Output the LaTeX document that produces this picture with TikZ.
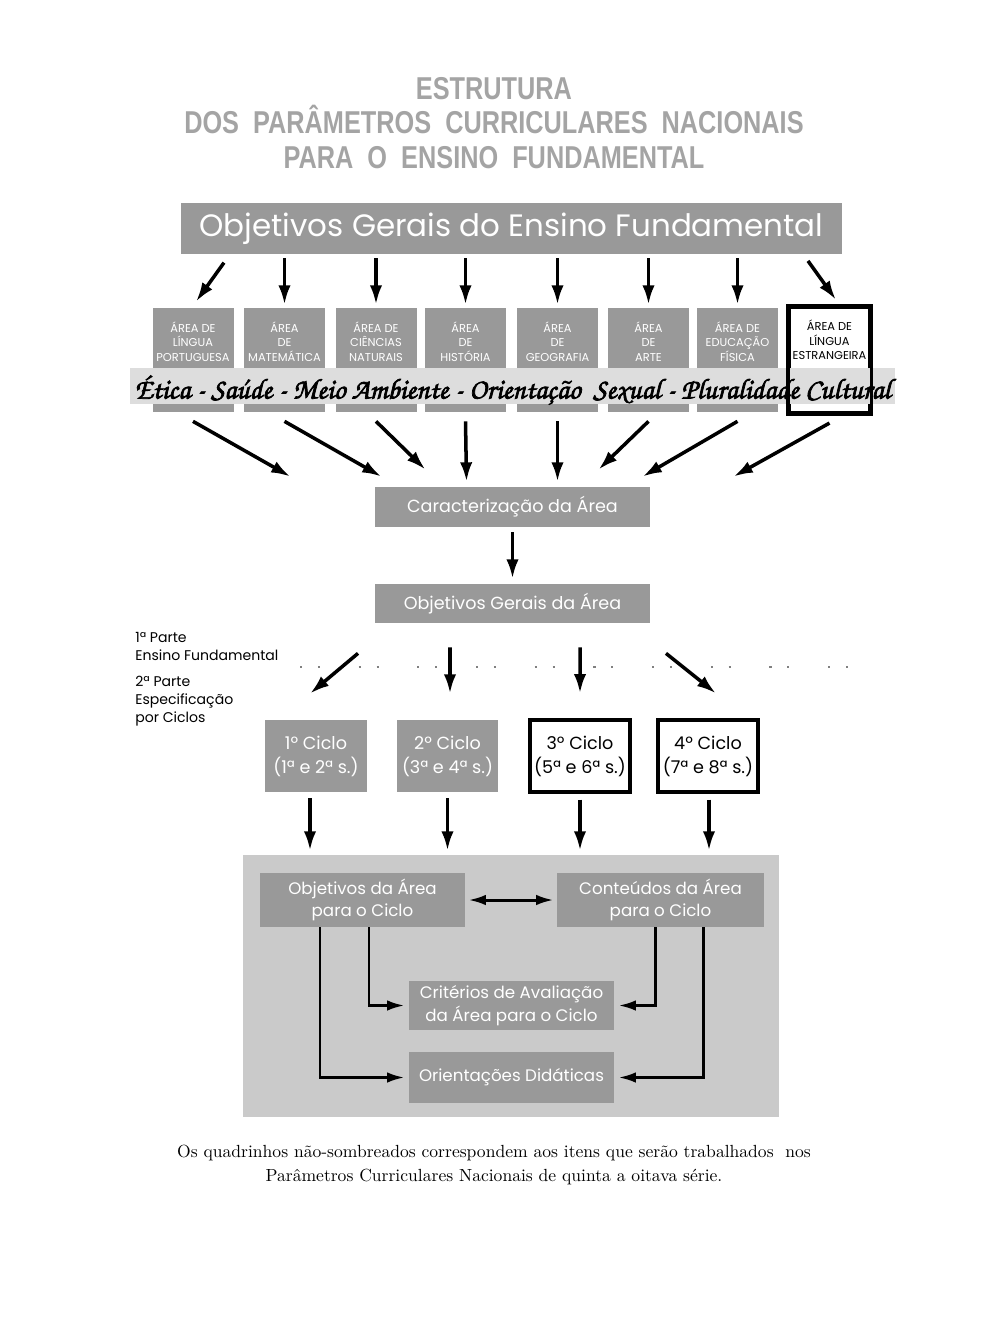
\documentclass[tikz,border=0pt]{standalone}
\usepackage{fontspec}
\usetikzlibrary{arrows.meta,calc}

\newfontfamily\gothic{Poppins}
\newfontfamily\titlefont{Liberation Sans}[FakeStretch=0.8]
\newfontfamily\handfont{texgyrechorus-mediumitalic.otf}[FakeBold=2.5]

\newlength\pxd
\setlength\pxd{0.02cm}

\definecolor{titlegray}{HTML}{A4A4A4}
\definecolor{boxgray}{HTML}{999999}
\definecolor{bandgray}{HTML}{DDDDDD}
\definecolor{panelgray}{HTML}{CACACA}

\begin{document}
\begin{tikzpicture}[x=0.02cm, y=-0.02cm,
    gbox/.style={fill=boxgray, text=white, inner sep=0pt, align=center},
    wbox/.style={gbox, fill=white, text=black, draw=black, line width=1.8pt},
    areatext/.style={align=center, text=white, inner sep=0pt, font=\gothic\fontsize{6.5}{8.2}\selectfont},
    arr/.style={-{Latex[length=11pt,width=7pt]}, line width=2pt},
    elbow/.style={-{Latex[length=10pt,width=6pt]}, line width=1.7pt}]

    % page
    \useasboundingbox (0,0) rectangle (1004,1328);

    % Title
    \node[align=center, text=titlegray, font=\titlefont\bfseries\fontsize{18}{19.5}\selectfont] (title) at (494,123)
        {ESTRUTURA\\DOS\ \ PARÂMETROS\ \ CURRICULARES\ \ NACIONAIS\\PARA\ \ O\ \ ENSINO\ \ FUNDAMENTAL};

    % Objetivos gerais
    \node[gbox, minimum width=661*\pxd, minimum height=51*\pxd, font=\gothic\fontsize{17.6}{20}\selectfont] (top) at (511.5,228.5)
        {Objetivos Gerais do Ensino Fundamental};

    % Areas
    \foreach \i/\x/\txt in {1/193/{ÁREA DE\\LÍNGUA\\PORTUGUESA}, 2/284.5/{ÁREA\\DE\\MATEMÁTICA},
        3/376/{ÁREA DE\\CIÊNCIAS\\NATURAIS}, 4/465.5/{ÁREA\\DE\\HISTÓRIA}, 5/557.5/{ÁREA\\DE\\GEOGRAFIA},
        6/648.5/{ÁREA\\DE\\ARTE}, 7/737.5/{ÁREA DE\\EDUCAÇÃO\\FÍSICA}}{
        \node[gbox, minimum width=81*\pxd, minimum height=104*\pxd] (a\i) at (\x,360) {};
        \node[areatext] at ($(a\i.north)+(0,34)$) {\txt};
    }
    \node[wbox, minimum width=80*\pxd, minimum height=105*\pxd] (a8) at (829.5,360) {};
    \node[areatext, text=black] at ($(a8.north)+(0,34)$) {ÁREA DE\\LÍNGUA\\ESTRANGEIRA};

    % Temas transversais
    \node[fill=bandgray, minimum width=765*\pxd, minimum height=36*\pxd, inner sep=0pt] (band) at (512.5,386) {};
    \draw[line width=1.8pt] (a8.north west) rectangle (a8.south east);
    \node[inner sep=0pt, font=\handfont\fontsize{16.4}{16}\selectfont] (temas) at ($(band)+(0,4)$)
        {Ética - Saúde - Meio Ambiente - Orientação\ \ Sexual - Pluralidade Cultural};

    % Arrows to the areas
    \draw[arr] ($(a1.north)+(31,-45)$) -- ($(a1.north)+(3,-6)$);
    \foreach \i in {2,...,7}
        \draw[arr] ($(a\i.north |- top.south)+(0,4)$) -- ($(a\i.north)+(0,-3)$);
    \draw[arr] ($(a8.north)+(-21.5,-45)$) -- ($(a8.north)+(6.5,-6)$);

    % Caracterizacao
    \node[gbox, minimum width=275*\pxd, minimum height=40*\pxd, font=\gothic\fontsize{10}{12}\selectfont] (carac) at (512.5,507)
        {Caracterização da Área};
    \foreach \i/\ex/\ey in {1/-222/-10, 2/-131/-10, 3/-87/-17, 4/-46/-5, 5/45/-5, 6/86/-17, 7/130/-10, 8/221/-10}
        \draw[arr] ($(a\i.south)+(0,9)$) -- ($(carac.north)+(\ex,\ey)$);

    % Objetivos gerais da area
    \node[gbox, minimum width=275*\pxd, minimum height=39*\pxd, font=\gothic\fontsize{10}{12}\selectfont] (objg) at (512.5,603.5)
        {Objetivos Gerais da Área};
    \draw[arr] ($(carac.south)+(0,5)$) -- ($(objg.north)+(0,-5)$);

    % Partes
    \node[anchor=north west, align=left, inner sep=0pt, font=\gothic\fontsize{8}{10.2}\selectfont] (parte1) at (135,632)
        {1ª Parte\\Ensino Fundamental};
    \node[anchor=north west, align=left, inner sep=0pt, font=\gothic\fontsize{8}{10.2}\selectfont] (parte2) at (135,676)
        {2ª Parte\\Especificação\\por Ciclos};
    \draw[gray, line width=1.2pt, dash pattern=on 1.2pt off 9pt on 1.2pt off 22pt] (300,667) -- (882,667);

    % Ciclos
    \node[gbox, minimum width=102*\pxd, minimum height=72*\pxd, font=\gothic\fontsize{10}{13.6}\selectfont] (c1) at (316,756)
        {1º Ciclo\\(1ª e 2ª s.)};
    \node[gbox, minimum width=101*\pxd, minimum height=72*\pxd, font=\gothic\fontsize{10}{13.6}\selectfont] (c2) at (447.5,756)
        {2º Ciclo\\(3ª e 4ª s.)};
    \node[wbox, minimum width=100*\pxd, minimum height=72*\pxd, font=\gothic\fontsize{10}{13.6}\selectfont] (c3) at (580,756)
        {3º Ciclo\\(5ª e 6ª s.)};
    \node[wbox, minimum width=100*\pxd, minimum height=72*\pxd, font=\gothic\fontsize{10}{13.6}\selectfont] (c4) at (708,756)
        {4º Ciclo\\(7ª e 8ª s.)};

    \foreach \i/\sx/\sy/\ex/\ey in {1/-154.5/30/-6/-26, 2/-62.5/24/2.5/-26, 3/67.5/24/0/-25, 4/153.5/30/8/-25}
        \draw[arr] ($(objg.south)+(\sx,\sy)$) -- ($(c\i.north)+(\ex,\ey)$);

    % Panel
    \node[fill=panelgray, minimum width=536*\pxd, minimum height=262*\pxd, inner sep=0pt] (panel) at (511,986) {};
    \foreach \i/\dx in {1/-6,2/0,3/0,4/1}
        \draw[arr] ($(c\i.south)+(\dx,6)$) -- ($(c\i.south |- panel.north)+(\dx,-4)$);

    \node[gbox, minimum width=205*\pxd, minimum height=54*\pxd, font=\gothic\fontsize{9.5}{13}\selectfont] (objc) at (362.5,900)
        {Objetivos da Área\\para o Ciclo};
    \node[gbox, minimum width=207*\pxd, minimum height=54*\pxd, font=\gothic\fontsize{9.5}{13}\selectfont] (contc) at (660.5,900)
        {Conteúdos da Área\\para o Ciclo};
    \node[gbox, minimum width=205*\pxd, minimum height=49*\pxd, font=\gothic\fontsize{9.5}{13}\selectfont] (crit) at (511.5,1005.5)
        {Critérios de Avaliação\\da Área para o Ciclo};
    \node[gbox, minimum width=205*\pxd, minimum height=51*\pxd, font=\gothic\fontsize{9.5}{13}\selectfont] (orient) at (511.5,1077.5)
        {Orientações Didáticas};

    \draw[{Latex[length=10pt,width=6pt]}-{Latex[length=10pt,width=6pt]}, line width=1.7pt]
        ($(objc.east)+(3,0)$) -- ($(contc.west)+(-3,0)$);
    \draw[elbow] ($(objc.south)+(-42.5,0)$) |- ($(orient.west)+(-4,0)$);
    \draw[elbow] ($(objc.south)+(6.5,0)$) |- ($(crit.west)+(-4,0)$);
    \draw[elbow] ($(contc.south)+(-5.5,0)$) |- ($(crit.east)+(4,0)$);
    \draw[elbow] ($(contc.south)+(42.5,0)$) |- ($(orient.east)+(4,0)$);

    % Nota
    \node[align=center, font=\fontsize{10}{13.6}\selectfont] (nota) at (494,1165)
        {Os quadrinhos não-sombreados correspondem aos itens que serão trabalhados\ \ nos\\Parâmetros Curriculares Nacionais de quinta a oitava série.};

\end{tikzpicture}
\end{document}
